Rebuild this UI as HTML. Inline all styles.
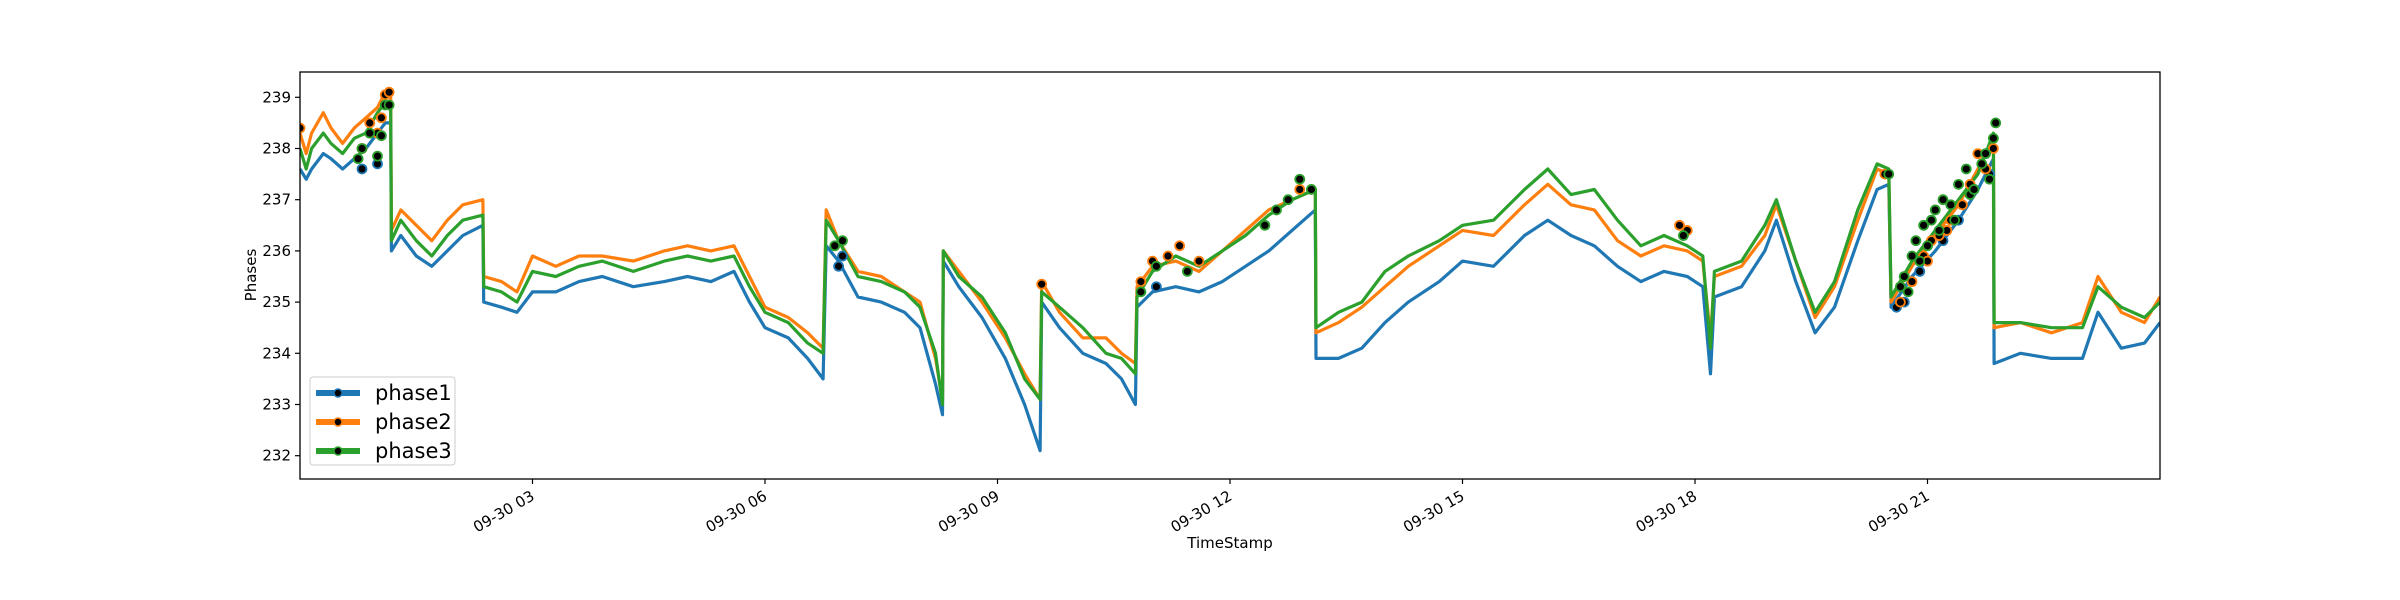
<!DOCTYPE html>
<html><head><meta charset="utf-8"><style>
html,body{margin:0;padding:0;background:#fff;}
svg{display:block;font-family:"DejaVu Sans","Liberation Sans",sans-serif;}
</style></head><body>
<svg id="chart" width="2400" height="600" viewBox="0 0 2400 600"></svg>
<script>
const times=[0,0.08,0.15,0.30,0.40,0.55,0.70,0.85,1.00,1.10,1.17,1.18,1.30,1.50,1.70,1.90,2.10,2.36,2.37,2.60,2.80,3.00,3.30,3.60,3.90,4.30,4.70,5.00,5.30,5.60,5.80,6.00,6.30,6.55,6.75,6.79,6.95,7.20,7.50,7.80,8.00,8.20,8.29,8.30,8.50,8.80,9.10,9.35,9.55,9.57,9.80,10.10,10.40,10.60,10.78,10.80,11.00,11.30,11.60,11.90,12.20,12.50,12.80,13.10,13.11,13.40,13.70,14.00,14.30,14.70,15.00,15.40,15.80,16.10,16.40,16.70,17.00,17.30,17.60,17.90,18.10,18.20,18.25,18.60,18.90,19.05,19.30,19.55,19.80,20.10,20.35,20.50,20.53,20.80,21.10,21.40,21.65,21.85,21.86,22.20,22.60,23.00,23.20,23.50,23.80,24.00];
const phase2=[238.3,237.9,238.3,238.7,238.4,238.1,238.4,238.6,238.8,239.1,239.0,236.4,236.8,236.5,236.2,236.6,236.9,237.0,235.5,235.4,235.2,235.9,235.7,235.9,235.9,235.8,236.0,236.1,236.0,236.1,235.5,234.9,234.7,234.4,234.1,236.8,236.2,235.6,235.5,235.2,235.0,233.9,233.1,236.0,235.6,235.0,234.3,233.6,233.1,235.4,234.8,234.3,234.3,234.0,233.8,235.3,235.7,235.8,235.6,236.0,236.4,236.8,237.0,237.2,234.4,234.6,234.9,235.3,235.7,236.1,236.4,236.3,236.9,237.3,236.9,236.8,236.2,235.9,236.1,236.0,235.8,234.3,235.5,235.7,236.3,236.9,235.8,234.7,235.3,236.6,237.6,237.5,235.0,235.7,236.3,236.9,237.6,238.2,234.5,234.6,234.4,234.6,235.5,234.8,234.6,235.1];
const phase3=[238.0,237.6,238.0,238.3,238.1,237.9,238.2,238.3,238.7,238.9,238.8,236.2,236.6,236.2,235.9,236.3,236.6,236.7,235.3,235.2,235.0,235.6,235.5,235.7,235.8,235.6,235.8,235.9,235.8,235.9,235.3,234.8,234.6,234.2,234.0,236.6,236.2,235.5,235.4,235.2,234.9,234.0,233.0,236.0,235.5,235.1,234.4,233.5,233.1,235.2,234.9,234.5,234.0,233.9,233.6,235.1,235.6,235.9,235.7,236.0,236.3,236.7,237.0,237.2,234.5,234.8,235.0,235.6,235.9,236.2,236.5,236.6,237.2,237.6,237.1,237.2,236.6,236.1,236.3,236.1,235.9,234.1,235.6,235.8,236.5,237.0,235.8,234.8,235.4,236.8,237.7,237.6,235.1,235.8,236.4,237.0,237.5,238.3,234.6,234.6,234.5,234.5,235.3,234.9,234.7,235.0];
const phase1=[237.6,237.4,237.6,237.9,237.8,237.6,237.8,238.0,238.3,238.5,238.5,236.0,236.3,235.9,235.7,236.0,236.3,236.5,235.0,234.9,234.8,235.2,235.2,235.4,235.5,235.3,235.4,235.5,235.4,235.6,235.0,234.5,234.3,233.9,233.5,236.1,235.8,235.1,235.0,234.8,234.5,233.4,232.8,235.8,235.3,234.7,233.9,233.0,232.1,235.0,234.5,234.0,233.8,233.5,233.0,234.9,235.2,235.3,235.2,235.4,235.7,236.0,236.4,236.8,233.9,233.9,234.1,234.6,235.0,235.4,235.8,235.7,236.3,236.6,236.3,236.1,235.7,235.4,235.6,235.5,235.3,233.6,235.1,235.3,236.0,236.6,235.4,234.4,234.9,236.2,237.2,237.3,234.9,235.5,236.0,236.6,237.2,237.8,233.8,234.0,233.9,233.9,234.8,234.1,234.2,234.6];
const mk1T=[0.8,1.0,6.95,7.0,11.05,20.6,20.7,20.9,21.2,21.4,21.6,21.8];
const mk1V=[237.6,237.7,235.7,235.9,235.3,234.9,235.0,235.6,236.2,236.6,237.2,237.5];
const mk2T=[0,0.8,0.9,1.0,1.05,1.1,1.15,9.57,10.85,11.0,11.2,11.35,11.6,12.9,17.8,17.9,20.45,20.65,20.8,20.95,21.05,21.15,21.3,21.45,21.55,21.65,21.75,21.85,21.0,21.25];
const mk2V=[238.4,238.0,238.5,238.3,238.6,239.05,239.1,235.35,235.4,235.8,235.9,236.1,235.8,237.2,236.5,236.4,237.5,235.0,235.4,235.9,236.2,236.3,236.6,236.9,237.3,237.9,237.6,238.0,235.8,236.4];
const mk3T=[0.75,0.8,0.9,1.0,1.05,1.1,1.15,6.9,7.0,10.85,11.05,11.45,12.45,12.6,12.75,12.9,13.05,17.85,20.5,20.65,20.7,20.75,20.8,20.85,20.9,20.95,21.0,21.05,21.1,21.15,21.2,21.3,21.35,21.4,21.5,21.55,21.6,21.7,21.75,21.8,21.85,21.88];
const mk3V=[237.8,238.0,238.3,237.85,238.25,238.85,238.85,236.1,236.2,235.2,235.7,235.6,236.5,236.8,237.0,237.4,237.2,236.3,237.5,235.3,235.5,235.2,235.9,236.2,235.8,236.5,236.1,236.6,236.8,236.4,237.0,236.9,236.6,237.3,237.6,237.1,237.2,237.7,237.9,237.4,238.2,238.5];
const yTicks=[232,233,234,235,236,237,238,239];
const xTicks=[3,6,9,12,15,18,21];
const xTickLabels=["09-30 03","09-30 06","09-30 09","09-30 12","09-30 15","09-30 18","09-30 21"];

const NS="http://www.w3.org/2000/svg";
const svg=document.getElementById('chart');
const L=300,R=2160,T=72,B=479;
const xs=h=>L+h*(R-L)/24;
const ys=v=>97.3+(239-v)*51.2;
function el(tag,attrs,parent){const e=document.createElementNS(NS,tag);for(const k in attrs)e.setAttribute(k,attrs[k]);(parent||svg).appendChild(e);return e;}

const cp=el('clipPath',{id:'clip'});el('rect',{x:L,y:T,width:R-L,height:B-T},cp);
const plot=el('g',{'clip-path':'url(#clip)'});



const series=[[phase1,'#1f77b4','phase1-line'],[phase2,'#ff7f0e','phase2-line'],[phase3,'#2ca02c','phase3-line']];
series.forEach(s=>{
  const d=times.map((t,i)=>(i?'L':'M')+xs(t).toFixed(1)+','+ys(s[0][i]).toFixed(1)).join('');
  const p=el('path',{d:d,fill:'none',stroke:s[1],'stroke-width':3.2,'stroke-linejoin':'round'},plot);
  
  
});
const mks=[[mk1T,mk1V,'#1f77b4','phase1-marker'],[mk2T,mk2V,'#ff7f0e','phase2-marker'],[mk3T,mk3V,'#2ca02c','phase3-marker']];
mks.forEach(m=>{
  m[0].forEach((t,i)=>{
    const c=el('circle',{cx:xs(t),cy:ys(m[1][i]),r:4.5,fill:'#000',stroke:m[2],'stroke-width':1.8},plot);
    
    
  });
});

const frame=el('rect',{x:L,y:T,width:R-L,height:B-T,fill:'none',stroke:'#000','stroke-width':1.3});



yTicks.forEach(v=>{
  const y=ys(v);
  el('line',{x1:L-5,x2:L,y1:y,y2:y,stroke:'#000','stroke-width':1.2});
  const t=el('text',{x:L-9,y:y+5,'text-anchor':'end','font-size':15,fill:'#000'});
  t.textContent=v;
  
  
});
xTicks.forEach((h,i)=>{
  const x=xs(h);
  el('line',{x1:x,x2:x,y1:B,y2:B+5,stroke:'#000','stroke-width':1.2});
  const t=el('text',{x:x+3,y:B+20,'text-anchor':'end','font-size':15,fill:'#000',transform:`rotate(-30 ${x+3} ${B+20})`});
  t.textContent=xTickLabels[i];
  
  
});
const yl=el('text',{x:256,y:275,'text-anchor':'middle','font-size':15,transform:'rotate(-90 256 275)'});
yl.textContent='Phases';


const xl=el('text',{x:1230,y:548,'text-anchor':'middle','font-size':15});
xl.textContent='TimeStamp';



const lg=el('g',{});


el('rect',{x:310,y:377,width:145,height:88,rx:3,fill:'#fff','fill-opacity':0.8,stroke:'#ccc','stroke-width':1},lg);
const names=['phase1','phase2','phase3'],cols=['#1f77b4','#ff7f0e','#2ca02c'];
names.forEach((n,i)=>{
  const y=393+i*29;
  const g=el('g',{},lg);
  
  
  el('line',{x1:316,x2:360,y1:y,y2:y,stroke:cols[i],'stroke-width':6},g);
  el('circle',{cx:338,cy:y,r:4,fill:'#000',stroke:cols[i],'stroke-width':1.5},g);
  const t=el('text',{x:375,y:y+7,'font-size':21,fill:'#000'},g);
  t.textContent=n;
});
</script>
</body></html>
